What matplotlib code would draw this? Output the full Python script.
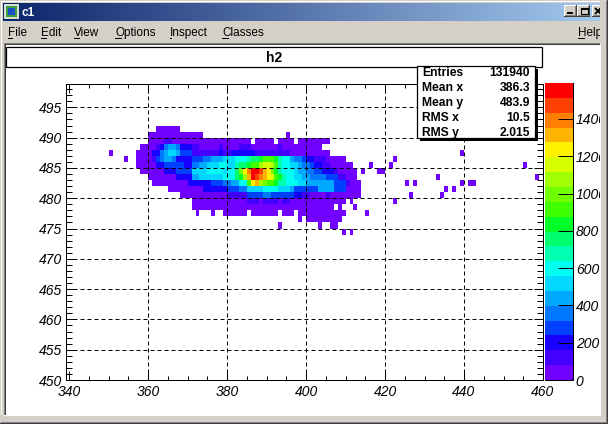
import numpy as np
import matplotlib
matplotlib.use("Agg")
import matplotlib.pyplot as plt
from matplotlib.colors import ListedColormap, BoundaryNorm, LinearSegmentedColormap
from matplotlib.patches import Rectangle

plt.rcParams['font.family'] = ['Liberation Sans', 'DejaVu Sans']

# ---------------- data ----------------
X_LOW, X_HIGH = 339, 460          # histogram x range, 1-unit bins
Y_LOW, Y_HIGH = 450, 499          # histogram y range, 1-unit bins
Z_MAX = 1593.0                    # top of the colour scale
N_CONTOURS = 20
LEVEL_CODES = "0123456789abcdefghij"   # one char = one colour band ('.' = empty bin)

ROW_Y = [491, 490, 489, 488, 487, 486, 485, 484, 483, 482, 481, 480, 479, 478, 477, 476, 475, 474]
ROW_X0 = [362, 360, 360, 358, 357, 354, 357, 358, 360, 361, 365, 368, 371, 371, 372, 398, 393, 409]
ROW_CELLS = [
    "000000",
    "00000000000000" "....................." "0",
    "0000" "11" "00000000000000000000" "." "00000" "." "0000" "." "00000000",
    "0000" "1" "2" "4554" "222" "11" "00000" "1" "0000" "111" "0000000" "1" "0000000000",
    "0000" "22" "4" "5665" "333" "11111" "11211" "222222" "111111111" "0000000000",
    "0" ".." "0000" "1" "34554" "2222" "33344" "555666" "777" "899" "abbba" "877" "5443" "22111" "00000",
    "00000" "223333322" "4455" "6667766" "899" "abb" "deed" "b" "87766" "544" "32211" "000000",
    "000000" "2223333" "666677776" "77" "9" "c" "f" "h" "j" "j" "i" "g" "f" "c" "a" "87776" "5544" "33222" "100000",
    "0000000" "2222" "55666666" "777" "9a" "d" "g" "j" "i" "h" "gfe" "ba" "87766" "554444333" "11000",
    "000000000" "222222333" "4455" "77" "b" "f" "g" "dcbba" "8877766" "5555555" "333" "1000",
    "000000000" "222222333" "44" "666677776665" "333333" "5555" "333" "0000",
    "000000000000" "11111" "33334433333322" "110000100000000",
    "00000000000000" "11101111011" "00000000000000" ".0",
    "000000000000" "000000000000" "000000000000" ".0" "...0",
    "0" "..." "0" ".." "000000" "." "0000000" "." "000" "." "000000000000" "....." "0",
    "0" "." "000000000",
    "0" "........." "0" ".." "00",
    "0.0",
]
OUT_X = [350, 439, 422, 416, 421, 455, 414, 418, 419, 433, 458, 425, 427, 439, 441, 442, 435, 437, 426, 434, 422]
OUT_Y = [487, 487, 486, 485, 485, 485, 484, 484, 484, 483, 483, 482, 482, 482, 482, 482, 481, 481, 480, 480, 479]

STAT_NAMES = ["Entries", "Mean x", "Mean y", "RMS x", "RMS y"]
STAT_VALUES = ["131940", "386.3", "483.9", "10.5", "2.015"]
X_TICKS = [340, 360, 380, 400, 420, 440, 460]
Y_TICKS = [450, 455, 460, 465, 470, 475, 480, 485, 490, 495]
Z_TICKS = [0, 200, 400, 600, 800, 1000, 1200, 1400]
HIST_TITLE = "h2"
WINDOW_TITLE = "c1"
MENU_ITEMS = ["File", "Edit", "View", "Options", "Inspect", "Classes"]
HELP_ITEM = "Help"

# ---------------- style ----------------
PALETTE = ["#7000FF", "#4400FF", "#1800FF", "#0040FF", "#0078FF", "#00A8FF", "#00D8FF",
           "#00FFF0", "#00FFB0", "#00FF70", "#00FF28", "#40FF00", "#70FF00", "#A0FF00",
           "#D8FF00", "#FFF000", "#FFB400", "#FF8000", "#FF4000", "#FF0000"]
GRAY = "#D4D0C8"
DARK = "#808080"
DARKER = "#404040"
W, HPX = 608, 424
MENU_X = [8, 41, 74, 115, 170, 222]
MENU_UL = [5, 6, 6, 7, 2, 7]


def fa(l, t, r, b):
    return [l / W, 1 - b / HPX, (r - l) / W, (b - t) / HPX]


# ---------------- histogram array ----------------
step = Z_MAX / N_CONTOURS
H = np.zeros((Y_HIGH - Y_LOW, X_HIGH - X_LOW))
for yv, x0, cells in zip(ROW_Y, ROW_X0, ROW_CELLS):
    for i, c in enumerate(cells):
        if c != '.':
            H[yv - Y_LOW, x0 + i - X_LOW] = (LEVEL_CODES.index(c) + 0.5) * step
for xv, yv in zip(OUT_X, OUT_Y):
    H[yv - Y_LOW, xv - X_LOW] = 0.5 * step
Hm = np.ma.masked_equal(H, 0)

bounds = np.linspace(0, Z_MAX, N_CONTOURS + 1)
cmap = ListedColormap(PALETTE)
norm = BoundaryNorm(bounds, cmap.N)

fig = plt.figure(figsize=(6.08, 4.24), dpi=100)
fig.patch.set_facecolor(GRAY)

# ---------------- background chrome ----------------
bg = fig.add_axes([0, 0, 1, 1], zorder=0)
bg.axis('off')


def box(axh, x, y, w, h, color, z=1):
    axh.add_patch(Rectangle((x, y), w, h, facecolor=color, edgecolor='none', lw=0, zorder=z))


grad = np.linspace(0, 1, 256).reshape(1, -1)
tcmap = LinearSegmentedColormap.from_list("tb", ["#0A246A", "#A6CAF0"])
bg.imshow(grad, extent=[3, 605, 21, 3], aspect='auto', cmap=tcmap, zorder=1)
# window outer edges
box(bg, 1, 1, 606, 1, "white")
box(bg, 1, 1, 1, 421, "white")
# icon
box(bg, 4, 4, 15, 15, "#D8E0D0", 2)
box(bg, 6, 6, 11, 11, "#3CA040", 3)
box(bg, 8, 8, 7, 7, "#2050C8", 4)
bg.text(22, 12.5, WINDOW_TITLE, color='white', fontweight='bold', fontsize=8.5,
        va='center', ha='left', zorder=5)
# buttons
for bx in [564, 577, 592]:
    box(bg, bx, 5, 13, 12, DARKER, 2)
    box(bg, bx, 5, 12, 11, "white", 3)
    box(bg, bx + 1, 6, 11, 10, DARK, 4)
    box(bg, bx + 1, 6, 10, 9, GRAY, 5)
box(bg, 567, 12, 6, 2, "black", 6)
bg.add_patch(Rectangle((580.5, 8), 7, 6, fill=False, edgecolor='black', lw=0.8, zorder=6))
box(bg, 580.5, 8, 7, 1.5, "black", 6)
bg.plot([595, 601], [8, 14], color='black', lw=1.4, zorder=6, solid_capstyle='butt')
bg.plot([595, 601], [14, 8], color='black', lw=1.4, zorder=6, solid_capstyle='butt')
# menu
for name, mx, ul in zip(MENU_ITEMS, MENU_X, MENU_UL):
    bg.text(mx, 33, name, fontsize=8.5, va='center', ha='left', color='black', zorder=5)
    box(bg, mx, 38, ul, 0.8, "black", 5)
bg.text(578, 33, HELP_ITEM, fontsize=8.5, va='center', ha='left', color='black', zorder=5)
box(bg, 578, 38, 7, 0.8, "black", 5)
# canvas (sunken)
box(bg, 4, 43, 597, 1, DARK, 2)
box(bg, 4, 43, 1, 373, DARK, 2)
box(bg, 5, 44, 595, 1, DARKER, 2)
box(bg, 5, 44, 1, 371, DARKER, 2)
box(bg, 6, 45, 594, 370, "white", 2)
bg.set_xlim(0, W)
bg.set_ylim(HPX, 0)

# ---------------- main histogram ----------------
ax = fig.add_axes(fa(66, 84, 543, 380), zorder=2)
xe = np.arange(X_LOW, X_HIGH + 1)
ye = np.arange(Y_LOW, Y_HIGH + 1)
ax.pcolormesh(xe, ye, Hm, cmap=cmap, norm=norm, zorder=1)
ax.set_xlim(339.2, 460)
ax.set_ylim(450, 498.85)
ax.set_facecolor('white')
for gx in X_TICKS[1:-1]:
    ax.axvline(gx, color='black', lw=0.72, ls=(0, (4, 3)), zorder=3)
for gy in Y_TICKS[1:]:
    ax.axhline(gy, color='black', lw=0.72, ls=(0, (4, 3)), zorder=3)
ax.set_xticks(X_TICKS)
ax.set_yticks(Y_TICKS)
ax.set_xticks(np.arange(345, 460, 5), minor=True)
ax.set_yticks(np.arange(451, 499), minor=True)
ax.set_xticklabels([str(v) for v in X_TICKS], fontstyle='italic', fontsize=10)
ax.set_yticklabels([str(v) for v in Y_TICKS], fontstyle='italic', fontsize=10)
ax.tick_params(axis='x', which='major', direction='in', length=6.5, width=0.72,
               top=True, bottom=True, pad=3.4)
ax.tick_params(axis='x', which='minor', direction='in', length=3.0, width=0.72,
               top=True, bottom=True)
ax.tick_params(axis='y', which='major', direction='in', length=6.5, width=0.72,
               left=True, right=True, pad=3.0)
ax.tick_params(axis='y', which='minor', direction='in', length=4.0, width=0.72,
               left=True, right=True)
for s in ax.spines.values():
    s.set_linewidth(0.72)
    s.set_color('black')
    s.set_zorder(4)

# ---------------- palette axis ----------------
cax = fig.add_axes(fa(545, 83, 573, 380), zorder=2)
centers = (bounds[:-1] + bounds[1:]) / 2
cax.pcolormesh([0, 1], bounds, centers.reshape(-1, 1), cmap=cmap, norm=norm)
cax.set_xlim(0, 1)
cax.set_ylim(0, Z_MAX)
cax.set_xticks([])
cax.yaxis.tick_right()
cax.set_yticks(Z_TICKS)
cax.set_yticklabels([str(v) for v in Z_TICKS], fontstyle='italic', fontsize=10)
cax.tick_params(axis='y', direction='in', length=10.8, width=0.72, pad=2,
                left=False, right=True, labelleft=False, labelright=True)
for s in ['left', 'top']:
    cax.spines[s].set_visible(False)
for s in ['right', 'bottom']:
    cax.spines[s].set_linewidth(0.72)

# ---------------- foreground: title, stats, borders ----------------
fg = fig.add_axes([0, 0, 1, 1], zorder=10)
fg.axis('off')
fg.patch.set_visible(False)
fg.add_patch(Rectangle((6, 47), 536, 20, facecolor='white', edgecolor='black', lw=0.9, zorder=2))
fg.text(274, 57.5, HIST_TITLE, fontweight='bold', fontsize=10, ha='center', va='center', zorder=3)
fg.add_patch(Rectangle((419.5, 68.5), 118, 72, facecolor='black', edgecolor='none', zorder=4))
fg.add_patch(Rectangle((417, 66), 118, 72, facecolor='white', edgecolor='black', lw=0.9, zorder=5))
base = 76
for i, (nm, val) in enumerate(zip(STAT_NAMES, STAT_VALUES)):
    yb = base + i * 14.9
    fg.text(422, yb, nm, fontweight='bold', fontsize=8.7, ha='left', va='baseline', zorder=6)
    fg.text(530, yb, val, fontweight='bold', fontsize=8.7, ha='right', va='baseline', zorder=6)
# window borders (cover overflow on the right/bottom)
box(fg, 600, 0, 8, HPX, GRAY, 7)
box(fg, 0, 415, W, 9, GRAY, 7)
box(fg, 600, 44, 1, 372, "white", 8)
box(fg, 4, 415, 597, 1, "white", 8)
box(fg, 606, 1, 1, 422, DARK, 8)
box(fg, 607, 0, 1, 424, DARKER, 8)
box(fg, 1, 422, 606, 1, DARK, 8)
box(fg, 0, 423, 608, 1, DARKER, 8)
fg.set_xlim(0, W)
fg.set_ylim(HPX, 0)

fig.savefig("out.png", dpi=100, facecolor=fig.get_facecolor())
